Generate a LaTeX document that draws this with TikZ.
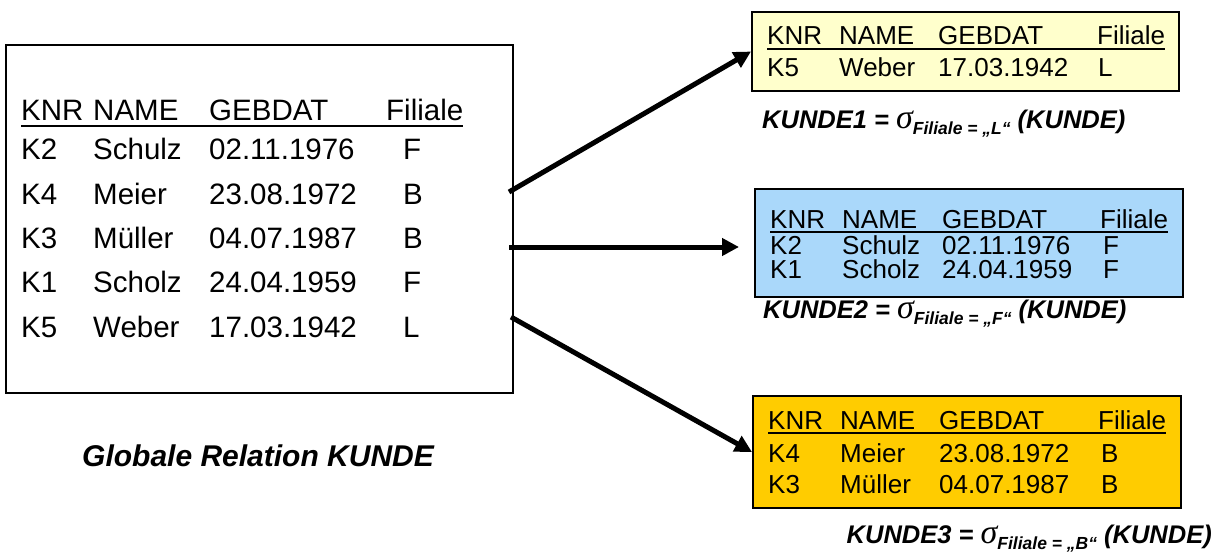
\documentclass[tikz,border=0pt]{standalone}
\usepackage{fontspec}
\setmainfont{Liberation Sans}
\newfontfamily\sigmafont{Liberation Serif}
\usetikzlibrary{arrows.meta}

\definecolor{hellgelb}{RGB}{255,255,204}
\definecolor{hellblau}{RGB}{170,216,250}
\definecolor{orangegelb}{RGB}{255,204,0}

\tikzset{
  zelle/.style={anchor=base west, inner sep=0pt},
  gross/.style={zelle, font=\fontsize{29.5}{29.5}\selectfont},
  klein/.style={zelle, font=\fontsize{26}{26}\selectfont},
  rahmen/.style={draw=black, line width=2pt, inner sep=0pt},
  pfeil/.style={line width=5pt, -{Triangle[length=17pt,width=17pt]}},
  formel/.style={zelle, font=\fontsize{25.5}{25.5}\selectfont\bfseries\itshape},
  strich/.style={line width=2pt},
}

\newcommand{\sel}[1]{{\sigmafont\fontsize{34}{34}\selectfont\mdseries\itshape σ}\raisebox{-6pt}{\fontsize{17.5}{17.5}\selectfont Filiale = „#1“}}

\begin{document}
\begin{tikzpicture}[x=1pt,y=-1pt]
  \useasboundingbox (0,0) rectangle (1217,556);

  % Kaesten
  \node[rahmen, minimum width=507pt, minimum height=348pt] (kunde) at (259.5,219) {};
  \node[rahmen, fill=hellgelb, minimum width=427pt, minimum height=79pt] (kunde1) at (965.5,51.5) {};
  \node[rahmen, fill=hellblau, minimum width=428pt, minimum height=108pt] (kunde2) at (969,243) {};
  \node[rahmen, fill=orangegelb, minimum width=428pt, minimum height=112pt] (kunde3) at (967,452) {};

  % globale Relation
  \node[gross] (h0a) at (21,121) {KNR};
  \node[gross] (h0b) at (93,121) {NAME};
  \node[gross] (h0c) at (209,121) {GEBDAT};
  \node[gross] (h0d) at (386,121) {Filiale};
  \draw[strich] ([yshift=-5pt]h0a.base west) -- ([yshift=-5pt]h0d.base east);
  \foreach \kn/\nm/\gd/\fl [count=\i] in {K2/Schulz/02.11.1976/F, K4/Meier/23.08.1972/B,
      K3/Müller/04.07.1987/B, K1/Scholz/24.04.1959/F, K5/Weber/17.03.1942/L}{
    \node[gross] (r0\i a) at (21,{160+44.25*(\i-1)}) {\kn};
    \node[gross] (r0\i b) at (93,{160+44.25*(\i-1)}) {\nm};
    \node[gross] (r0\i c) at (209,{160+44.25*(\i-1)}) {\gd};
    \node[gross] (r0\i d) at (403,{160+44.25*(\i-1)}) {\fl};
  }
  \node[formel, font=\fontsize{30}{30}\selectfont\bfseries\itshape] (titel) at (82,466) {Globale Relation KUNDE};

  % KUNDE1
  \node[klein] (h1a) at (767,45) {KNR};
  \node[klein] (h1b) at (839,45) {NAME};
  \node[klein] (h1c) at (938,45) {GEBDAT};
  \node[klein] (h1d) at (1097,45) {Filiale};
  \draw[strich] ([yshift=-4pt]h1a.base west) -- ([yshift=-4pt]h1d.base east);
  \node[klein] (r11a) at (767,77) {K5};
  \node[klein] (r11b) at (839,77) {Weber};
  \node[klein] (r11c) at (938,77) {17.03.1942};
  \node[klein] (r11d) at (1098,77) {L};
  \node[formel] (f1) at (762,129) {KUNDE1 = \sel{L} (KUNDE)};

  % KUNDE2
  \node[klein] (h2a) at (770,228) {KNR};
  \node[klein] (h2b) at (842,228) {NAME};
  \node[klein] (h2c) at (942,228) {GEBDAT};
  \node[klein] (h2d) at (1100,228) {Filiale};
  \draw[strich] ([yshift=-4pt]h2a.base west) -- ([yshift=-4pt]h2d.base east);
  \foreach \kn/\nm/\gd/\fl/\y [count=\i] in {K2/Schulz/02.11.1976/F/254, K1/Scholz/24.04.1959/F/278}{
    \node[klein] (r2\i a) at (770,\y) {\kn};
    \node[klein] (r2\i b) at (842,\y) {\nm};
    \node[klein] (r2\i c) at (942,\y) {\gd};
    \node[klein] (r2\i d) at (1103,\y) {\fl};
  }
  \node[formel] (f2) at (763,318) {KUNDE2 = \sel{F} (KUNDE)};

  % KUNDE3
  \node[klein] (h3a) at (768,429) {KNR};
  \node[klein] (h3b) at (840,429) {NAME};
  \node[klein] (h3c) at (939,429) {GEBDAT};
  \node[klein] (h3d) at (1098,429) {Filiale};
  \draw[strich] ([yshift=-4pt]h3a.base west) -- ([yshift=-4pt]h3d.base east);
  \foreach \kn/\nm/\gd/\fl/\y [count=\i] in {K4/Meier/23.08.1972/B/462, K3/Müller/04.07.1987/B/493}{
    \node[klein] (r3\i a) at (768,\y) {\kn};
    \node[klein] (r3\i b) at (840,\y) {\nm};
    \node[klein] (r3\i c) at (939,\y) {\gd};
    \node[klein] (r3\i d) at (1101,\y) {\fl};
  }
  \node[formel, anchor=base east] (f3) at (1212,543) {KUNDE3 = \sel{B} (KUNDE)};

  % Pfeile
  \coordinate (a1) at (509,192);
  \coordinate (a2) at (509,247);
  \coordinate (a3) at (511,317);
  \draw[pfeil] (a1) -- (kunde1.west);
  \draw[pfeil, shorten >=15pt] (a2) -- (a2 -| kunde2.west);
  \draw[pfeil] (a3) -- (kunde3.west);
\end{tikzpicture}
\end{document}
